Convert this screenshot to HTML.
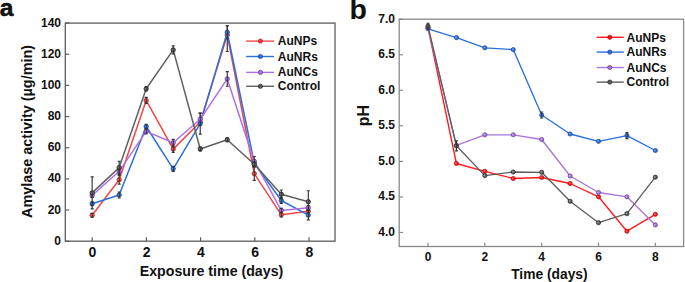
<!DOCTYPE html>
<html><head><meta charset="utf-8"><style>
html,body{margin:0;padding:0;background:#fff;}
body{width:685px;height:282px;overflow:hidden;}
svg{display:block;}
text{font-family:"Liberation Sans", sans-serif;font-weight:bold;fill:#111;}
.tk{font-size:12px;}
.tka{font-size:14px;}
.lg{font-size:12px;}
.ti{font-size:14.2px;}
.tiy{font-size:14.4px;}
.ti2{font-size:13.8px;}
.ti3{font-size:16px;}
.pl{font-size:27px;}
</style></head><body>
<svg width="685" height="282" viewBox="0 0 685 282">
<rect x="65.3" y="23.1" width="269.7" height="218.1" fill="none" stroke="#5c5c5c" stroke-width="1.3"/>
<line x1="92.2" y1="241.2" x2="92.2" y2="237.2" stroke="#5c5c5c" stroke-width="1.2"/>
<text x="92.5" y="256.5" class="tka" text-anchor="middle">0</text>
<line x1="146.4" y1="241.2" x2="146.4" y2="237.2" stroke="#5c5c5c" stroke-width="1.2"/>
<text x="146.7" y="256.5" class="tka" text-anchor="middle">2</text>
<line x1="200.6" y1="241.2" x2="200.6" y2="237.2" stroke="#5c5c5c" stroke-width="1.2"/>
<text x="200.9" y="256.5" class="tka" text-anchor="middle">4</text>
<line x1="254.8" y1="241.2" x2="254.8" y2="237.2" stroke="#5c5c5c" stroke-width="1.2"/>
<text x="255.1" y="256.5" class="tka" text-anchor="middle">6</text>
<line x1="309" y1="241.2" x2="309" y2="237.2" stroke="#5c5c5c" stroke-width="1.2"/>
<text x="309.3" y="256.5" class="tka" text-anchor="middle">8</text>
<line x1="65.3" y1="241.2" x2="69.3" y2="241.2" stroke="#5c5c5c" stroke-width="1.2"/>
<text x="61" y="244.8" class="tk" text-anchor="end">0</text>
<line x1="65.3" y1="210.04" x2="69.3" y2="210.04" stroke="#5c5c5c" stroke-width="1.2"/>
<text x="61" y="213.64" class="tk" text-anchor="end">20</text>
<line x1="65.3" y1="178.88" x2="69.3" y2="178.88" stroke="#5c5c5c" stroke-width="1.2"/>
<text x="61" y="182.48" class="tk" text-anchor="end">40</text>
<line x1="65.3" y1="147.72" x2="69.3" y2="147.72" stroke="#5c5c5c" stroke-width="1.2"/>
<text x="61" y="151.32" class="tk" text-anchor="end">60</text>
<line x1="65.3" y1="116.56" x2="69.3" y2="116.56" stroke="#5c5c5c" stroke-width="1.2"/>
<text x="61" y="120.16" class="tk" text-anchor="end">80</text>
<line x1="65.3" y1="85.4" x2="69.3" y2="85.4" stroke="#5c5c5c" stroke-width="1.2"/>
<text x="61" y="89" class="tk" text-anchor="end">100</text>
<line x1="65.3" y1="54.24" x2="69.3" y2="54.24" stroke="#5c5c5c" stroke-width="1.2"/>
<text x="61" y="57.84" class="tk" text-anchor="end">120</text>
<line x1="65.3" y1="23.08" x2="69.3" y2="23.08" stroke="#5c5c5c" stroke-width="1.2"/>
<text x="61" y="26.68" class="tk" text-anchor="end">140</text>
<polyline points="92.15,215.2 119.17,179.8 146.19,100.4 173.21,149.1 200.23,122 227.25,35 254.27,173.6 281.29,214.8 308.31,211.2" fill="none" stroke="#f24646" stroke-width="1.5" stroke-linejoin="round"/>
<circle cx="92.15" cy="215.2" r="2.2" fill="#f24646" stroke="#a81515" stroke-width="0.7"/>
<circle cx="91.65" cy="215" r="0.8" fill="#fff" opacity="0.45"/>
<circle cx="119.17" cy="179.8" r="2.2" fill="#f24646" stroke="#a81515" stroke-width="0.7"/>
<circle cx="118.67" cy="179.6" r="0.8" fill="#fff" opacity="0.45"/>
<circle cx="146.19" cy="100.4" r="2.2" fill="#f24646" stroke="#a81515" stroke-width="0.7"/>
<circle cx="145.69" cy="100.2" r="0.8" fill="#fff" opacity="0.45"/>
<circle cx="173.21" cy="149.1" r="2.2" fill="#f24646" stroke="#a81515" stroke-width="0.7"/>
<circle cx="172.71" cy="148.9" r="0.8" fill="#fff" opacity="0.45"/>
<circle cx="200.23" cy="122" r="2.2" fill="#f24646" stroke="#a81515" stroke-width="0.7"/>
<circle cx="199.73" cy="121.8" r="0.8" fill="#fff" opacity="0.45"/>
<circle cx="227.25" cy="35" r="2.2" fill="#f24646" stroke="#a81515" stroke-width="0.7"/>
<circle cx="226.75" cy="34.8" r="0.8" fill="#fff" opacity="0.45"/>
<circle cx="254.27" cy="173.6" r="2.2" fill="#f24646" stroke="#a81515" stroke-width="0.7"/>
<circle cx="253.77" cy="173.4" r="0.8" fill="#fff" opacity="0.45"/>
<circle cx="281.29" cy="214.8" r="2.2" fill="#f24646" stroke="#a81515" stroke-width="0.7"/>
<circle cx="280.79" cy="214.6" r="0.8" fill="#fff" opacity="0.45"/>
<circle cx="308.31" cy="211.2" r="2.2" fill="#f24646" stroke="#a81515" stroke-width="0.7"/>
<circle cx="307.81" cy="211" r="0.8" fill="#fff" opacity="0.45"/>
<path d="M92.15 213.2V217.2M90.65 213.2h3M90.65 217.2h3" stroke="#333333" stroke-width="1.15" fill="none"/>
<path d="M119.17 175.5V184.1M117.67 175.5h3M117.67 184.1h3" stroke="#333333" stroke-width="1.15" fill="none"/>
<path d="M146.19 97.4V103.4M144.69 97.4h3M144.69 103.4h3" stroke="#333333" stroke-width="1.15" fill="none"/>
<path d="M173.21 145.9V152.3M171.71 145.9h3M171.71 152.3h3" stroke="#333333" stroke-width="1.15" fill="none"/>
<path d="M227.25 25.7V51.5M225.75 25.7h3M225.75 51.5h3" stroke="#333333" stroke-width="1.15" fill="none"/>
<path d="M254.27 166.8V180.4M252.77 166.8h3M252.77 180.4h3" stroke="#333333" stroke-width="1.15" fill="none"/>
<path d="M281.29 212.6V217M279.79 212.6h3M279.79 217h3" stroke="#333333" stroke-width="1.15" fill="none"/>
<path d="M308.31 209.2V213.2M306.81 209.2h3M306.81 213.2h3" stroke="#333333" stroke-width="1.15" fill="none"/>
<polyline points="92.15,203.7 119.17,195 146.19,126.5 173.21,168.8 200.23,123.6 227.25,32.2 254.27,163 281.29,200.5 308.31,215.1" fill="none" stroke="#2a6fdc" stroke-width="1.5" stroke-linejoin="round"/>
<circle cx="92.15" cy="203.7" r="2.2" fill="#2a6fdc" stroke="#123f9a" stroke-width="0.7"/>
<circle cx="91.65" cy="203.5" r="0.8" fill="#fff" opacity="0.45"/>
<circle cx="119.17" cy="195" r="2.2" fill="#2a6fdc" stroke="#123f9a" stroke-width="0.7"/>
<circle cx="118.67" cy="194.8" r="0.8" fill="#fff" opacity="0.45"/>
<circle cx="146.19" cy="126.5" r="2.2" fill="#2a6fdc" stroke="#123f9a" stroke-width="0.7"/>
<circle cx="145.69" cy="126.3" r="0.8" fill="#fff" opacity="0.45"/>
<circle cx="173.21" cy="168.8" r="2.2" fill="#2a6fdc" stroke="#123f9a" stroke-width="0.7"/>
<circle cx="172.71" cy="168.6" r="0.8" fill="#fff" opacity="0.45"/>
<circle cx="200.23" cy="123.6" r="2.2" fill="#2a6fdc" stroke="#123f9a" stroke-width="0.7"/>
<circle cx="199.73" cy="123.4" r="0.8" fill="#fff" opacity="0.45"/>
<circle cx="227.25" cy="32.2" r="2.2" fill="#2a6fdc" stroke="#123f9a" stroke-width="0.7"/>
<circle cx="226.75" cy="32" r="0.8" fill="#fff" opacity="0.45"/>
<circle cx="254.27" cy="163" r="2.2" fill="#2a6fdc" stroke="#123f9a" stroke-width="0.7"/>
<circle cx="253.77" cy="162.8" r="0.8" fill="#fff" opacity="0.45"/>
<circle cx="281.29" cy="200.5" r="2.2" fill="#2a6fdc" stroke="#123f9a" stroke-width="0.7"/>
<circle cx="280.79" cy="200.3" r="0.8" fill="#fff" opacity="0.45"/>
<circle cx="308.31" cy="215.1" r="2.2" fill="#2a6fdc" stroke="#123f9a" stroke-width="0.7"/>
<circle cx="307.81" cy="214.9" r="0.8" fill="#fff" opacity="0.45"/>
<path d="M92.15 201.7V205.7M90.65 201.7h3M90.65 205.7h3" stroke="#333333" stroke-width="1.15" fill="none"/>
<path d="M119.17 192V198M117.67 192h3M117.67 198h3" stroke="#333333" stroke-width="1.15" fill="none"/>
<path d="M146.19 124.2V128.8M144.69 124.2h3M144.69 128.8h3" stroke="#333333" stroke-width="1.15" fill="none"/>
<path d="M173.21 166.2V171.4M171.71 166.2h3M171.71 171.4h3" stroke="#333333" stroke-width="1.15" fill="none"/>
<path d="M200.23 113.1V134.1M198.73 113.1h3M198.73 134.1h3" stroke="#333333" stroke-width="1.15" fill="none"/>
<path d="M227.25 25.7V38.7M225.75 25.7h3M225.75 38.7h3" stroke="#333333" stroke-width="1.15" fill="none"/>
<path d="M254.27 160V166M252.77 160h3M252.77 166h3" stroke="#333333" stroke-width="1.15" fill="none"/>
<path d="M281.29 197.5V203.5M279.79 197.5h3M279.79 203.5h3" stroke="#333333" stroke-width="1.15" fill="none"/>
<path d="M308.31 210.4V219.8M306.81 210.4h3M306.81 219.8h3" stroke="#333333" stroke-width="1.15" fill="none"/>
<polyline points="92.15,195.5 119.17,171.3 146.19,131.4 173.21,142.8 200.23,119.3 227.25,78.9 254.27,161.2 281.29,210.4 308.31,207.7" fill="none" stroke="#ad70e6" stroke-width="1.5" stroke-linejoin="round"/>
<circle cx="92.15" cy="195.5" r="2.2" fill="#ad70e6" stroke="#5e2f96" stroke-width="0.7"/>
<circle cx="91.65" cy="195.3" r="0.8" fill="#fff" opacity="0.45"/>
<circle cx="119.17" cy="171.3" r="2.2" fill="#ad70e6" stroke="#5e2f96" stroke-width="0.7"/>
<circle cx="118.67" cy="171.1" r="0.8" fill="#fff" opacity="0.45"/>
<circle cx="146.19" cy="131.4" r="2.2" fill="#ad70e6" stroke="#5e2f96" stroke-width="0.7"/>
<circle cx="145.69" cy="131.2" r="0.8" fill="#fff" opacity="0.45"/>
<circle cx="173.21" cy="142.8" r="2.2" fill="#ad70e6" stroke="#5e2f96" stroke-width="0.7"/>
<circle cx="172.71" cy="142.6" r="0.8" fill="#fff" opacity="0.45"/>
<circle cx="200.23" cy="119.3" r="2.2" fill="#ad70e6" stroke="#5e2f96" stroke-width="0.7"/>
<circle cx="199.73" cy="119.1" r="0.8" fill="#fff" opacity="0.45"/>
<circle cx="227.25" cy="78.9" r="2.2" fill="#ad70e6" stroke="#5e2f96" stroke-width="0.7"/>
<circle cx="226.75" cy="78.7" r="0.8" fill="#fff" opacity="0.45"/>
<circle cx="254.27" cy="161.2" r="2.2" fill="#ad70e6" stroke="#5e2f96" stroke-width="0.7"/>
<circle cx="253.77" cy="161" r="0.8" fill="#fff" opacity="0.45"/>
<circle cx="281.29" cy="210.4" r="2.2" fill="#ad70e6" stroke="#5e2f96" stroke-width="0.7"/>
<circle cx="280.79" cy="210.2" r="0.8" fill="#fff" opacity="0.45"/>
<circle cx="308.31" cy="207.7" r="2.2" fill="#ad70e6" stroke="#5e2f96" stroke-width="0.7"/>
<circle cx="307.81" cy="207.5" r="0.8" fill="#fff" opacity="0.45"/>
<path d="M92.15 193.5V197.5M90.65 193.5h3M90.65 197.5h3" stroke="#333333" stroke-width="1.15" fill="none"/>
<path d="M119.17 168.3V174.3M117.67 168.3h3M117.67 174.3h3" stroke="#333333" stroke-width="1.15" fill="none"/>
<path d="M146.19 128.8V134M144.69 128.8h3M144.69 134h3" stroke="#333333" stroke-width="1.15" fill="none"/>
<path d="M173.21 139.4V146.2M171.71 139.4h3M171.71 146.2h3" stroke="#333333" stroke-width="1.15" fill="none"/>
<path d="M200.23 113.1V125.5M198.73 113.1h3M198.73 125.5h3" stroke="#333333" stroke-width="1.15" fill="none"/>
<path d="M227.25 71.6V86.2M225.75 71.6h3M225.75 86.2h3" stroke="#333333" stroke-width="1.15" fill="none"/>
<path d="M254.27 156.5V165.9M252.77 156.5h3M252.77 165.9h3" stroke="#333333" stroke-width="1.15" fill="none"/>
<path d="M281.29 208.4V212.4M279.79 208.4h3M279.79 212.4h3" stroke="#333333" stroke-width="1.15" fill="none"/>
<path d="M308.31 205.7V209.7M306.81 205.7h3M306.81 209.7h3" stroke="#333333" stroke-width="1.15" fill="none"/>
<polyline points="92.15,192.9 119.17,167.6 146.19,88.8 173.21,49.9 200.23,149 227.25,139.7 254.27,164.3 281.29,194.3 308.31,201.7" fill="none" stroke="#606060" stroke-width="1.5" stroke-linejoin="round"/>
<circle cx="92.15" cy="192.9" r="2.2" fill="#606060" stroke="#1a1a1a" stroke-width="0.7"/>
<circle cx="91.65" cy="192.7" r="0.8" fill="#fff" opacity="0.45"/>
<circle cx="119.17" cy="167.6" r="2.2" fill="#606060" stroke="#1a1a1a" stroke-width="0.7"/>
<circle cx="118.67" cy="167.4" r="0.8" fill="#fff" opacity="0.45"/>
<circle cx="146.19" cy="88.8" r="2.2" fill="#606060" stroke="#1a1a1a" stroke-width="0.7"/>
<circle cx="145.69" cy="88.6" r="0.8" fill="#fff" opacity="0.45"/>
<circle cx="173.21" cy="49.9" r="2.2" fill="#606060" stroke="#1a1a1a" stroke-width="0.7"/>
<circle cx="172.71" cy="49.7" r="0.8" fill="#fff" opacity="0.45"/>
<circle cx="200.23" cy="149" r="2.2" fill="#606060" stroke="#1a1a1a" stroke-width="0.7"/>
<circle cx="199.73" cy="148.8" r="0.8" fill="#fff" opacity="0.45"/>
<circle cx="227.25" cy="139.7" r="2.2" fill="#606060" stroke="#1a1a1a" stroke-width="0.7"/>
<circle cx="226.75" cy="139.5" r="0.8" fill="#fff" opacity="0.45"/>
<circle cx="254.27" cy="164.3" r="2.2" fill="#606060" stroke="#1a1a1a" stroke-width="0.7"/>
<circle cx="253.77" cy="164.1" r="0.8" fill="#fff" opacity="0.45"/>
<circle cx="281.29" cy="194.3" r="2.2" fill="#606060" stroke="#1a1a1a" stroke-width="0.7"/>
<circle cx="280.79" cy="194.1" r="0.8" fill="#fff" opacity="0.45"/>
<circle cx="308.31" cy="201.7" r="2.2" fill="#606060" stroke="#1a1a1a" stroke-width="0.7"/>
<circle cx="307.81" cy="201.5" r="0.8" fill="#fff" opacity="0.45"/>
<path d="M92.15 176.9V208.9M90.65 176.9h3M90.65 208.9h3" stroke="#333333" stroke-width="1.15" fill="none"/>
<path d="M119.17 161.2V174M117.67 161.2h3M117.67 174h3" stroke="#333333" stroke-width="1.15" fill="none"/>
<path d="M146.19 86.8V90.8M144.69 86.8h3M144.69 90.8h3" stroke="#333333" stroke-width="1.15" fill="none"/>
<path d="M173.21 45.9V53.9M171.71 45.9h3M171.71 53.9h3" stroke="#333333" stroke-width="1.15" fill="none"/>
<path d="M200.23 147V151M198.73 147h3M198.73 151h3" stroke="#333333" stroke-width="1.15" fill="none"/>
<path d="M227.25 137.7V141.7M225.75 137.7h3M225.75 141.7h3" stroke="#333333" stroke-width="1.15" fill="none"/>
<path d="M254.27 161.8V166.8M252.77 161.8h3M252.77 166.8h3" stroke="#333333" stroke-width="1.15" fill="none"/>
<path d="M281.29 190V198.6M279.79 190h3M279.79 198.6h3" stroke="#333333" stroke-width="1.15" fill="none"/>
<path d="M308.31 190.7V212.7M306.81 190.7h3M306.81 212.7h3" stroke="#333333" stroke-width="1.15" fill="none"/>
<line x1="246.1" y1="41.1" x2="274.1" y2="41.1" stroke="#f24646" stroke-width="1.4"/>
<circle cx="260.4" cy="41.1" r="2.1" fill="#f24646" stroke="#a81515" stroke-width="0.7"/>
<text x="277.8" y="44.9" class="lg">AuNPs</text>
<line x1="246.1" y1="56.5" x2="274.1" y2="56.5" stroke="#2a6fdc" stroke-width="1.4"/>
<circle cx="260.4" cy="56.5" r="2.1" fill="#2a6fdc" stroke="#123f9a" stroke-width="0.7"/>
<text x="277.8" y="60.6" class="lg">AuNRs</text>
<line x1="246.1" y1="72.4" x2="274.1" y2="72.4" stroke="#ad70e6" stroke-width="1.4"/>
<circle cx="260.4" cy="72.4" r="2.1" fill="#ad70e6" stroke="#5e2f96" stroke-width="0.7"/>
<text x="277.8" y="76.4" class="lg">AuNCs</text>
<line x1="246.1" y1="86.3" x2="274.1" y2="86.3" stroke="#606060" stroke-width="1.4"/>
<circle cx="260.4" cy="86.3" r="2.1" fill="#606060" stroke="#1a1a1a" stroke-width="0.7"/>
<text x="277.8" y="90.2" class="lg">Control</text>
<text x="211.5" y="276" class="ti" text-anchor="middle">Exposure time (days)</text>
<text transform="translate(32,131.5) rotate(-90)" class="tiy" text-anchor="middle">Amylase activity (µg/min)</text>
<text x="-0.3" y="16.4" class="pl" style="font-size:24.6px;stroke:#111;stroke-width:0.55px">a</text>
<rect x="399.2" y="19.2" width="284.4" height="227.3" fill="none" stroke="#8a8a8a" stroke-width="1.3"/>
<line x1="428" y1="246.5" x2="428" y2="242.7" stroke="#8a8a8a" stroke-width="1.2"/>
<text x="428" y="260.5" class="tk" text-anchor="middle">0</text>
<line x1="484.84" y1="246.5" x2="484.84" y2="242.7" stroke="#8a8a8a" stroke-width="1.2"/>
<text x="484.84" y="260.5" class="tk" text-anchor="middle">2</text>
<line x1="541.68" y1="246.5" x2="541.68" y2="242.7" stroke="#8a8a8a" stroke-width="1.2"/>
<text x="541.68" y="260.5" class="tk" text-anchor="middle">4</text>
<line x1="598.52" y1="246.5" x2="598.52" y2="242.7" stroke="#8a8a8a" stroke-width="1.2"/>
<text x="598.52" y="260.5" class="tk" text-anchor="middle">6</text>
<line x1="655.36" y1="246.5" x2="655.36" y2="242.7" stroke="#8a8a8a" stroke-width="1.2"/>
<text x="655.36" y="260.5" class="tk" text-anchor="middle">8</text>
<line x1="399.2" y1="19.2" x2="403.0" y2="19.2" stroke="#8a8a8a" stroke-width="1.2"/>
<text x="395" y="22.5" class="tk" text-anchor="end">7.0</text>
<line x1="399.2" y1="54.75" x2="403.0" y2="54.75" stroke="#8a8a8a" stroke-width="1.2"/>
<text x="395" y="58.05" class="tk" text-anchor="end">6.5</text>
<line x1="399.2" y1="90.3" x2="403.0" y2="90.3" stroke="#8a8a8a" stroke-width="1.2"/>
<text x="395" y="93.6" class="tk" text-anchor="end">6.0</text>
<line x1="399.2" y1="125.85" x2="403.0" y2="125.85" stroke="#8a8a8a" stroke-width="1.2"/>
<text x="395" y="129.15" class="tk" text-anchor="end">5.5</text>
<line x1="399.2" y1="161.4" x2="403.0" y2="161.4" stroke="#8a8a8a" stroke-width="1.2"/>
<text x="395" y="164.7" class="tk" text-anchor="end">5.0</text>
<line x1="399.2" y1="196.95" x2="403.0" y2="196.95" stroke="#8a8a8a" stroke-width="1.2"/>
<text x="395" y="200.25" class="tk" text-anchor="end">4.5</text>
<line x1="399.2" y1="232.5" x2="403.0" y2="232.5" stroke="#8a8a8a" stroke-width="1.2"/>
<text x="395" y="235.8" class="tk" text-anchor="end">4.0</text>
<polyline points="428,27.5 456.42,163.5 484.84,171.3 513.26,178.5 541.68,177.5 570.1,183.5 598.52,196.8 626.94,231.2 655.36,214.3" fill="none" stroke="#ff1a1a" stroke-width="1.35" stroke-linejoin="round"/>
<circle cx="428" cy="27.5" r="2.1" fill="#ff1a1a" stroke="#b00000" stroke-width="0.7"/>
<circle cx="427.5" cy="27.3" r="0.8" fill="#fff" opacity="0.45"/>
<circle cx="456.42" cy="163.5" r="2.1" fill="#ff1a1a" stroke="#b00000" stroke-width="0.7"/>
<circle cx="455.92" cy="163.3" r="0.8" fill="#fff" opacity="0.45"/>
<circle cx="484.84" cy="171.3" r="2.1" fill="#ff1a1a" stroke="#b00000" stroke-width="0.7"/>
<circle cx="484.34" cy="171.1" r="0.8" fill="#fff" opacity="0.45"/>
<circle cx="513.26" cy="178.5" r="2.1" fill="#ff1a1a" stroke="#b00000" stroke-width="0.7"/>
<circle cx="512.76" cy="178.3" r="0.8" fill="#fff" opacity="0.45"/>
<circle cx="541.68" cy="177.5" r="2.1" fill="#ff1a1a" stroke="#b00000" stroke-width="0.7"/>
<circle cx="541.18" cy="177.3" r="0.8" fill="#fff" opacity="0.45"/>
<circle cx="570.1" cy="183.5" r="2.1" fill="#ff1a1a" stroke="#b00000" stroke-width="0.7"/>
<circle cx="569.6" cy="183.3" r="0.8" fill="#fff" opacity="0.45"/>
<circle cx="598.52" cy="196.8" r="2.1" fill="#ff1a1a" stroke="#b00000" stroke-width="0.7"/>
<circle cx="598.02" cy="196.6" r="0.8" fill="#fff" opacity="0.45"/>
<circle cx="626.94" cy="231.2" r="2.1" fill="#ff1a1a" stroke="#b00000" stroke-width="0.7"/>
<circle cx="626.44" cy="231" r="0.8" fill="#fff" opacity="0.45"/>
<circle cx="655.36" cy="214.3" r="2.1" fill="#ff1a1a" stroke="#b00000" stroke-width="0.7"/>
<circle cx="654.86" cy="214.1" r="0.8" fill="#fff" opacity="0.45"/>
<polyline points="428,28.8 456.42,37.6 484.84,47.8 513.26,49.6 541.68,115 570.1,134 598.52,141.3 626.94,135.6 655.36,150.5" fill="none" stroke="#2a6fdc" stroke-width="1.35" stroke-linejoin="round"/>
<circle cx="428" cy="28.8" r="2.1" fill="#2a6fdc" stroke="#123f9a" stroke-width="0.7"/>
<circle cx="427.5" cy="28.6" r="0.8" fill="#fff" opacity="0.45"/>
<circle cx="456.42" cy="37.6" r="2.1" fill="#2a6fdc" stroke="#123f9a" stroke-width="0.7"/>
<circle cx="455.92" cy="37.4" r="0.8" fill="#fff" opacity="0.45"/>
<circle cx="484.84" cy="47.8" r="2.1" fill="#2a6fdc" stroke="#123f9a" stroke-width="0.7"/>
<circle cx="484.34" cy="47.6" r="0.8" fill="#fff" opacity="0.45"/>
<circle cx="513.26" cy="49.6" r="2.1" fill="#2a6fdc" stroke="#123f9a" stroke-width="0.7"/>
<circle cx="512.76" cy="49.4" r="0.8" fill="#fff" opacity="0.45"/>
<circle cx="541.68" cy="115" r="2.1" fill="#2a6fdc" stroke="#123f9a" stroke-width="0.7"/>
<circle cx="541.18" cy="114.8" r="0.8" fill="#fff" opacity="0.45"/>
<circle cx="570.1" cy="134" r="2.1" fill="#2a6fdc" stroke="#123f9a" stroke-width="0.7"/>
<circle cx="569.6" cy="133.8" r="0.8" fill="#fff" opacity="0.45"/>
<circle cx="598.52" cy="141.3" r="2.1" fill="#2a6fdc" stroke="#123f9a" stroke-width="0.7"/>
<circle cx="598.02" cy="141.1" r="0.8" fill="#fff" opacity="0.45"/>
<circle cx="626.94" cy="135.6" r="2.1" fill="#2a6fdc" stroke="#123f9a" stroke-width="0.7"/>
<circle cx="626.44" cy="135.4" r="0.8" fill="#fff" opacity="0.45"/>
<circle cx="655.36" cy="150.5" r="2.1" fill="#2a6fdc" stroke="#123f9a" stroke-width="0.7"/>
<circle cx="654.86" cy="150.3" r="0.8" fill="#fff" opacity="0.45"/>
<path d="M541.68 112V118M540.18 112h3M540.18 118h3" stroke="#333333" stroke-width="1.15" fill="none"/>
<path d="M626.94 132.6V138.6M625.44 132.6h3M625.44 138.6h3" stroke="#333333" stroke-width="1.15" fill="none"/>
<polyline points="428,28 456.42,145.3 484.84,134.8 513.26,134.8 541.68,139.5 570.1,176 598.52,192.5 626.94,196.8 655.36,224.9" fill="none" stroke="#a676d8" stroke-width="1.35" stroke-linejoin="round"/>
<circle cx="428" cy="28" r="2.1" fill="#a676d8" stroke="#5e3a8e" stroke-width="0.7"/>
<circle cx="427.5" cy="27.8" r="0.8" fill="#fff" opacity="0.45"/>
<circle cx="456.42" cy="145.3" r="2.1" fill="#a676d8" stroke="#5e3a8e" stroke-width="0.7"/>
<circle cx="455.92" cy="145.1" r="0.8" fill="#fff" opacity="0.45"/>
<circle cx="484.84" cy="134.8" r="2.1" fill="#a676d8" stroke="#5e3a8e" stroke-width="0.7"/>
<circle cx="484.34" cy="134.6" r="0.8" fill="#fff" opacity="0.45"/>
<circle cx="513.26" cy="134.8" r="2.1" fill="#a676d8" stroke="#5e3a8e" stroke-width="0.7"/>
<circle cx="512.76" cy="134.6" r="0.8" fill="#fff" opacity="0.45"/>
<circle cx="541.68" cy="139.5" r="2.1" fill="#a676d8" stroke="#5e3a8e" stroke-width="0.7"/>
<circle cx="541.18" cy="139.3" r="0.8" fill="#fff" opacity="0.45"/>
<circle cx="570.1" cy="176" r="2.1" fill="#a676d8" stroke="#5e3a8e" stroke-width="0.7"/>
<circle cx="569.6" cy="175.8" r="0.8" fill="#fff" opacity="0.45"/>
<circle cx="598.52" cy="192.5" r="2.1" fill="#a676d8" stroke="#5e3a8e" stroke-width="0.7"/>
<circle cx="598.02" cy="192.3" r="0.8" fill="#fff" opacity="0.45"/>
<circle cx="626.94" cy="196.8" r="2.1" fill="#a676d8" stroke="#5e3a8e" stroke-width="0.7"/>
<circle cx="626.44" cy="196.6" r="0.8" fill="#fff" opacity="0.45"/>
<circle cx="655.36" cy="224.9" r="2.1" fill="#a676d8" stroke="#5e3a8e" stroke-width="0.7"/>
<circle cx="654.86" cy="224.7" r="0.8" fill="#fff" opacity="0.45"/>
<polyline points="428,26.2 456.42,145.8 484.84,175.6 513.26,172 541.68,172.3 570.1,201.3 598.52,222.7 626.94,213.7 655.36,177.2" fill="none" stroke="#5e5e5e" stroke-width="1.35" stroke-linejoin="round"/>
<circle cx="428" cy="26.2" r="2.1" fill="#5e5e5e" stroke="#202020" stroke-width="0.7"/>
<circle cx="427.5" cy="26" r="0.8" fill="#fff" opacity="0.45"/>
<circle cx="456.42" cy="145.8" r="2.1" fill="#5e5e5e" stroke="#202020" stroke-width="0.7"/>
<circle cx="455.92" cy="145.6" r="0.8" fill="#fff" opacity="0.45"/>
<circle cx="484.84" cy="175.6" r="2.1" fill="#5e5e5e" stroke="#202020" stroke-width="0.7"/>
<circle cx="484.34" cy="175.4" r="0.8" fill="#fff" opacity="0.45"/>
<circle cx="513.26" cy="172" r="2.1" fill="#5e5e5e" stroke="#202020" stroke-width="0.7"/>
<circle cx="512.76" cy="171.8" r="0.8" fill="#fff" opacity="0.45"/>
<circle cx="541.68" cy="172.3" r="2.1" fill="#5e5e5e" stroke="#202020" stroke-width="0.7"/>
<circle cx="541.18" cy="172.1" r="0.8" fill="#fff" opacity="0.45"/>
<circle cx="570.1" cy="201.3" r="2.1" fill="#5e5e5e" stroke="#202020" stroke-width="0.7"/>
<circle cx="569.6" cy="201.1" r="0.8" fill="#fff" opacity="0.45"/>
<circle cx="598.52" cy="222.7" r="2.1" fill="#5e5e5e" stroke="#202020" stroke-width="0.7"/>
<circle cx="598.02" cy="222.5" r="0.8" fill="#fff" opacity="0.45"/>
<circle cx="626.94" cy="213.7" r="2.1" fill="#5e5e5e" stroke="#202020" stroke-width="0.7"/>
<circle cx="626.44" cy="213.5" r="0.8" fill="#fff" opacity="0.45"/>
<circle cx="655.36" cy="177.2" r="2.1" fill="#5e5e5e" stroke="#202020" stroke-width="0.7"/>
<circle cx="654.86" cy="177" r="0.8" fill="#fff" opacity="0.45"/>
<path d="M428 23.2V29.2M426.5 23.2h3M426.5 29.2h3" stroke="#333333" stroke-width="1.15" fill="none"/>
<path d="M456.42 140.8V150.8M454.92 140.8h3M454.92 150.8h3" stroke="#333333" stroke-width="1.15" fill="none"/>
<line x1="596.6" y1="37.3" x2="623.8" y2="37.3" stroke="#ff1a1a" stroke-width="1.4"/>
<circle cx="609.8" cy="37.3" r="2.1" fill="#ff1a1a" stroke="#b00000" stroke-width="0.7"/>
<text x="626.5" y="41.6" class="lg">AuNPs</text>
<line x1="596.6" y1="52.1" x2="623.8" y2="52.1" stroke="#2a6fdc" stroke-width="1.4"/>
<circle cx="609.8" cy="52.1" r="2.1" fill="#2a6fdc" stroke="#123f9a" stroke-width="0.7"/>
<text x="626.5" y="56.3" class="lg">AuNRs</text>
<line x1="596.6" y1="67.5" x2="623.8" y2="67.5" stroke="#a676d8" stroke-width="1.4"/>
<circle cx="609.8" cy="67.5" r="2.1" fill="#a676d8" stroke="#5e3a8e" stroke-width="0.7"/>
<text x="626.5" y="72" class="lg">AuNCs</text>
<line x1="596.6" y1="82.1" x2="623.8" y2="82.1" stroke="#5e5e5e" stroke-width="1.4"/>
<circle cx="609.8" cy="82.1" r="2.1" fill="#5e5e5e" stroke="#202020" stroke-width="0.7"/>
<text x="626.5" y="86.2" class="lg">Control</text>
<text x="549.4" y="279.4" class="ti2" text-anchor="middle">Time (days)</text>
<text transform="translate(368.5,115.5) rotate(-90)" class="ti3" text-anchor="middle">pH</text>
<text x="349.4" y="19.2" class="pl" style="font-size:28.5px">b</text>
</svg>
</body></html>
